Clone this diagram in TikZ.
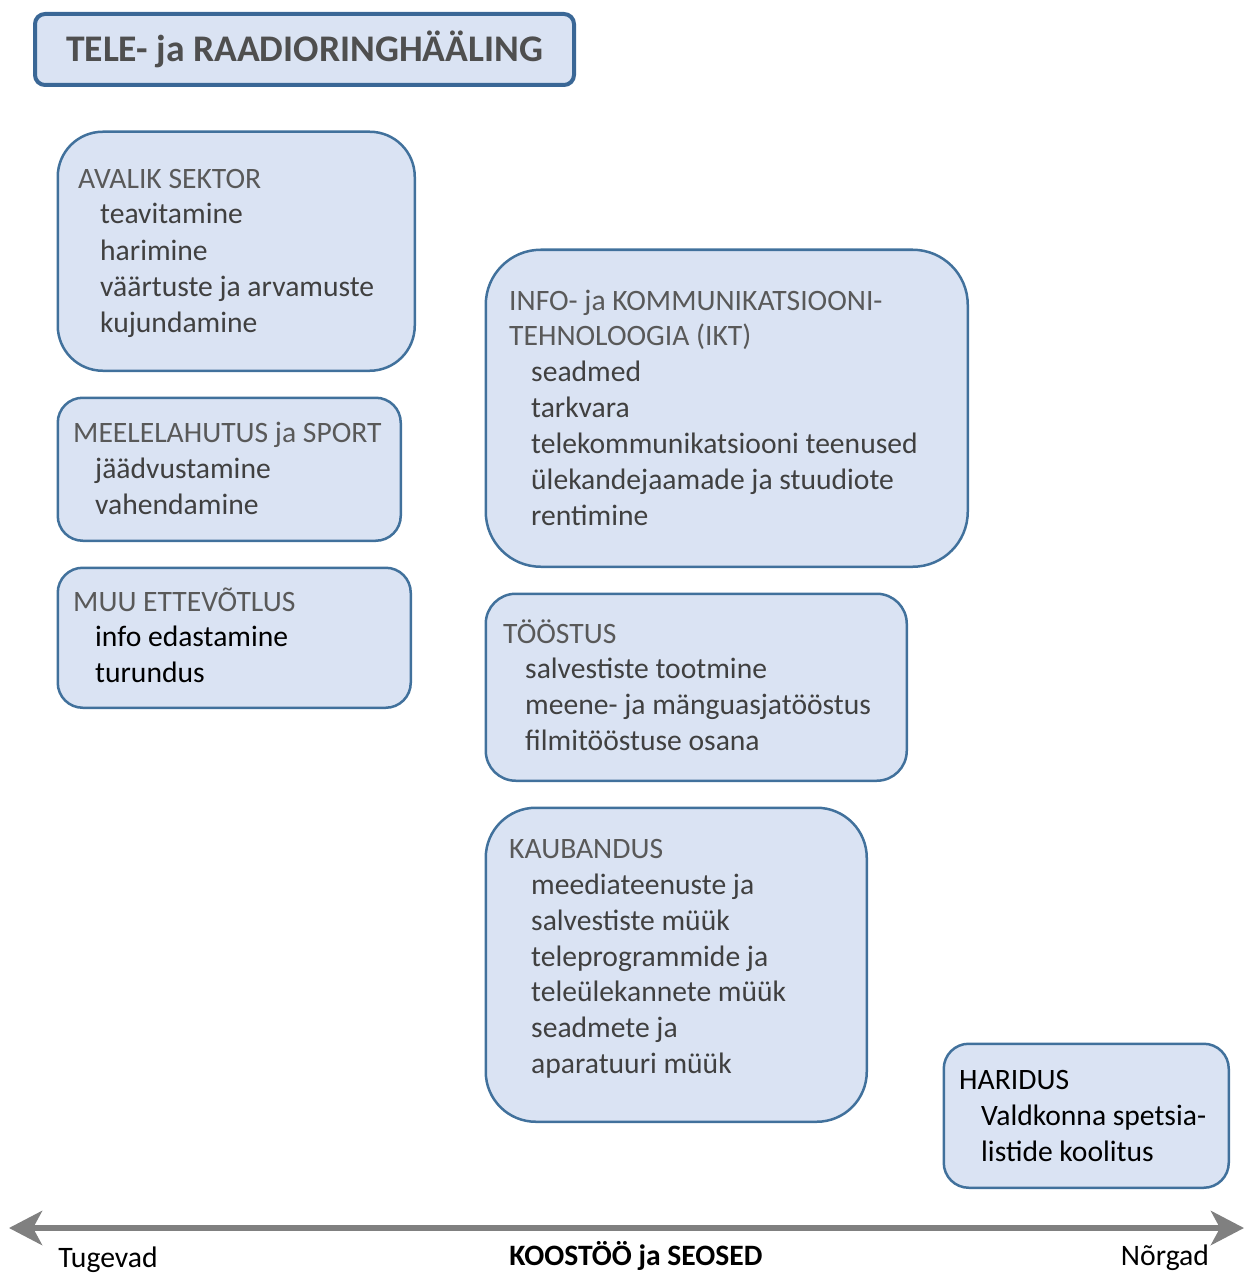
\documentclass[tikz,border=0pt]{standalone}
\usepackage{fontspec}
\setmainfont{Carlito}
\usetikzlibrary{arrows.meta}
\definecolor{boxfill}{HTML}{DAE3F3}
\definecolor{boxline}{HTML}{41719C}
\definecolor{titleline}{HTML}{3A6796}
\definecolor{hdrc}{HTML}{595959}
\definecolor{itmc}{HTML}{404040}
\definecolor{titlec}{HTML}{4F4F4F}
\definecolor{axisc}{HTML}{808080}
\tikzset{
  box/.style={draw=boxline, fill=boxfill, line width=2.5pt, anchor=north west, inner sep=0pt},
  hdr/.style={anchor=base west, inner sep=0pt, text=hdrc, font=\fontsize{29.6}{36}\selectfont},
  itm/.style={anchor=base west, inner sep=0pt, text=itmc, font=\fontsize{29.6}{36}\selectfont},
  blk/.style={text=black},
  lbl/.style={anchor=base, inner sep=0pt, text=black, font=\fontsize{29.7}{36}\selectfont},
  axis/.style={draw=axisc, line width=6pt, {Stealth[length=33pt,width=34pt,inset=9pt]}-{Stealth[length=33pt,width=34pt,inset=9pt]}}
}
\begin{document}
\begin{tikzpicture}[x=1pt,y=-1pt]
\useasboundingbox (0,0) rectangle (1245,1273);
% title
\node[box, draw=titleline, line width=4pt, rounded corners=10pt, minimum width=539pt, minimum height=71pt] (title) at (33,12) {};
\node[inner sep=0pt, text=titlec, font=\fontsize{37.6}{44}\selectfont\bfseries] (titletext) at (title.center) {TELE- ja RAADIORINGHÄÄLING};
% AVALIK SEKTOR
\node[box, rounded corners=45pt, minimum width=357pt, minimum height=239pt] (avalik) at (56.5,130.5) {};
\node[hdr] (a0) at (78,189) {AVALIK SEKTOR};
\node[itm] (a1) at (100,224) {teavitamine};
\node[itm] (a2) at (100,260) {harimine};
\node[itm] (a3) at (100,296) {väärtuste ja arvamuste};
\node[itm] (a4) at (100,332) {kujundamine};
% MEELELAHUTUS
\node[box, rounded corners=25pt, minimum width=343pt, minimum height=143pt] (meel) at (56.5,396.5) {};
\node[hdr] (m0) at (73,442) {MEELELAHUTUS ja SPORT};
\node[itm] (m1) at (95,478) {jäädvustamine};
\node[itm] (m2) at (95,514) {vahendamine};
% MUU ETTEVÕTLUS
\node[box, rounded corners=25pt, minimum width=353pt, minimum height=140pt] (muu) at (56.5,566.5) {};
\node[hdr] (u0) at (73,611) {MUU ETTEVÕTLUS};
\node[itm, blk] (u1) at (95,646) {info edastamine};
\node[itm, blk] (u2) at (95,682) {turundus};
% IKT
\node[box, rounded corners=55pt, minimum width=482pt, minimum height=317pt] (ikt) at (484.5,248.5) {};
\node[hdr] (i0) at (509,310) {INFO- ja KOMMUNIKATSIOONI-};
\node[hdr] (i1) at (509,345) {TEHNOLOOGIA (IKT)};
\node[itm] (i2) at (531,381) {seadmed};
\node[itm] (i3) at (531,417) {tarkvara};
\node[itm] (i4) at (531,453) {telekommunikatsiooni teenused};
\node[itm] (i5) at (531,489) {ülekandejaamade ja stuudiote};
\node[itm] (i6) at (531,525) {rentimine};
% TÖÖSTUS
\node[box, rounded corners=30pt, minimum width=421pt, minimum height=187pt] (toostus) at (484.5,592.5) {};
\node[hdr] (t0) at (503,643) {TÖÖSTUS};
\node[itm] (t1) at (525,678) {salvestiste tootmine};
\node[itm] (t2) at (525,714) {meene- ja mänguasjatööstus};
\node[itm] (t3) at (525,750) {filmitööstuse osana};
% KAUBANDUS
\node[box, rounded corners=50pt, minimum width=381pt, minimum height=314pt] (kaub) at (484.5,806.5) {};
\node[hdr] (k0) at (509,858) {KAUBANDUS};
\node[itm] (k1) at (531,894) {meediateenuste ja};
\node[itm] (k2) at (531,930) {salvestiste müük};
\node[itm] (k3) at (531,966) {teleprogrammide ja};
\node[itm] (k4) at (531,1001) {teleülekannete müük};
\node[itm] (k5) at (531,1037) {seadmete ja};
\node[itm] (k6) at (531,1073) {aparatuuri müük};
% HARIDUS
\node[box, rounded corners=25pt, minimum width=285pt, minimum height=144pt] (haridus) at (942.5,1042.5) {};
\node[hdr, blk] (h0) at (959,1089) {HARIDUS};
\node[itm, blk] (h1) at (981,1125) {Valdkonna spetsia-};
\node[itm, blk] (h2) at (981,1161) {listide koolitus};
% axis
\coordinate (axL) at (9,1228);
\coordinate (axR) at (1244,1228);
\draw[axis] (axL) -- (axR);
\node[lbl] (tug) at (108,1267) {Tugevad};
\node[lbl, font=\fontsize{29.6}{36}\selectfont\bfseries] (koos) at (636,1265) {KOOSTÖÖ ja SEOSED};
\node[lbl] (nor) at (1165,1265) {Nõrgad};
\end{tikzpicture}
\end{document}
